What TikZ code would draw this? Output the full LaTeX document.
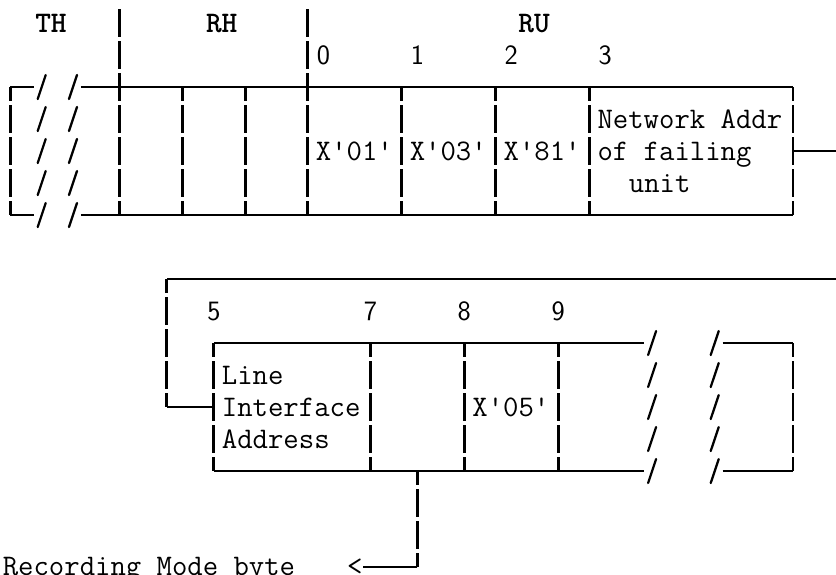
\documentclass[tikz,border=0pt]{standalone}
\newcommand\myq{\textquotesingle}
\begin{document}
\begin{tikzpicture}[x=11.7375pt,y=-24pt,
  hline/.style={line width=1.4pt},
  vbar/.style={line width=2.2pt, dash pattern=on 21pt off 3pt, dash phase=10.5pt},
  vbartop/.style={line width=2.2pt, dash pattern=on 21pt off 3pt, dash phase=22.5pt},
  slashln/.style={line width=1.7pt, line cap=round},
  txt/.style={anchor=base west, inner sep=0pt, font=\fontsize{22.4}{24}\selectfont\ttfamily},
  lbl/.style={anchor=base, inner sep=0pt, font=\fontsize{22.4}{24}\selectfont\ttfamily\bfseries},
  dig/.style={anchor=base, inner sep=0pt, font=\fontsize{21}{24}\selectfont\sffamily}]
\useasboundingbox (-0.6645,-2.71875) rectangle (52.75,15.219);

% ---------- header ----------
\node[lbl] (th) at (2.59,-1.71) {TH};
\node[lbl] (rh) at (13.5,-1.71) {RH};
\node[lbl] (ru) at (33.46,-1.71) {RU};
\node[dig] (d0) at (20,-0.71) {0};
\node[dig] (d1) at (26,-0.71) {1};
\node[dig] (d2) at (32,-0.71) {2};
\node[dig] (d3) at (38,-0.71) {3};

% ---------- top block ----------
\draw[hline] (0,0) -- (1.5,0);
\draw[hline] (4.5,0) -- (50,0);
\draw[hline] (0,4) -- (1.5,4);
\draw[hline] (4.5,4) -- (50,4);
\foreach \r in {0,...,4}{
  \draw[slashln] (2-0.256,\r+0.375) -- (2+0.256,\r-0.375);
  \draw[slashln] (4-0.256,\r+0.375) -- (4+0.256,\r-0.375);
}
\draw[vbar] (0,0) -- (0,4);
\draw[vbartop] (7,-2.5) -- (7,4);
\draw[vbartop] (19,-2.5) -- (19,4);
\foreach \c in {11,15,25,31,37,50}{
  \draw[vbar] (\c,0) -- (\c,4);
}
\node[txt] (n1) at (37.5,1.29) {Network Addr};
\node[txt] (x01) at (19.5,2.29) {X\myq01\myq};
\node[txt] (x03) at (25.5,2.29) {X\myq03\myq};
\node[txt] (x81) at (31.5,2.29) {X\myq81\myq};
\node[txt] (n2) at (37.5,2.29) {of failing};
\node[txt] (n3) at (39.5,3.29) {unit};

% connector from top block to the right edge
\coordinate (topout) at (50,2);
\coordinate (topedge) at (52.75,2);
\draw[hline] (topout) -- (topedge);

% ---------- connector into bottom block ----------
\coordinate (retedge) at (52.75,6);
\coordinate (retcorner) at (10,6);
\coordinate (retlow) at (10,10);
\coordinate (retin) at (13,10);
\draw[hline] (retedge) -- (retcorner);
\draw[vbar] (retcorner) -- (retlow);
\draw[hline] (retlow) -- (retin);

\node[dig] (d5) at (13,7.29) {5};
\node[dig] (d7) at (23,7.29) {7};
\node[dig] (d8) at (29,7.29) {8};
\node[dig] (d9) at (35,7.29) {9};

% ---------- bottom block ----------
\draw[hline] (13,8) -- (40.5,8);
\draw[hline] (45.5,8) -- (50,8);
\draw[hline] (13,12) -- (40.5,12);
\draw[hline] (45.5,12) -- (50,12);
\foreach \r in {8,...,12}{
  \draw[slashln] (41-0.256,\r+0.375) -- (41+0.256,\r-0.375);
  \draw[slashln] (45-0.256,\r+0.375) -- (45+0.256,\r-0.375);
}
\foreach \c in {13,23,29,35,50}{
  \draw[vbar] (\c,8) -- (\c,12);
}
\node[txt] (l1) at (13.5,9.29) {Line};
\node[txt] (l2) at (13.5,10.29) {Interface};
\node[txt] (l3) at (13.5,11.29) {Address};
\node[txt] (x05) at (29.5,10.29) {X\myq05\myq};

% ---------- recording mode connector ----------
\node[txt] (rec) at (-0.5,15.25) {Recording Mode byte};
\node[txt] (lt) at (21.5,15.25) {<};
\coordinate (rmtop) at (26,12);
\coordinate (rmbot) at (26,15);
\draw[vbar] (rmtop) -- (rmbot);
\draw[hline] (rmbot) -- (lt.east |- rmbot);
\end{tikzpicture}
\end{document}
